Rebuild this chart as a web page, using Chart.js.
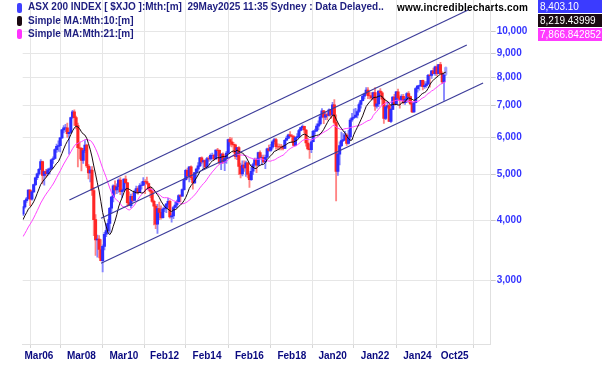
<!DOCTYPE html>
<html>
<head>
<meta charset="utf-8">
<script src="https://cdn.jsdelivr.net/npm/chart.js@4.4.1/dist/chart.umd.min.js"></script>
<style>
html,body{margin:0;padding:0;background:#fff;}
#wrap{position:relative;width:602px;height:365px;overflow:hidden;font-family:"Liberation Sans",Arial,sans-serif;}
#c{position:absolute;left:0;top:0;}
.leg{position:absolute;left:28px;font-size:10px;font-weight:bold;color:#1e1e80;white-space:pre;line-height:12px;}
.mk{position:absolute;left:17px;width:5px;height:10px;border-radius:2px;}
.site{position:absolute;left:397px;top:2px;font-size:10px;font-weight:bold;color:#000;letter-spacing:0.2px;line-height:12px;white-space:pre;}
.val{position:absolute;left:538px;width:64px;height:13px;color:#fff;font-size:10px;line-height:13px;padding-left:2px;box-sizing:border-box;white-space:pre;}
</style>
</head>
<body>
<div id="wrap">
<canvas id="c" width="602" height="365" style="width:602px;height:365px"></canvas>
<div class="mk" style="top:3px;background:#4040ff"></div>
<div class="leg" style="top:1px">ASX 200 INDEX [ $XJO ]:Mth:[m]  29May2025 11:35 Sydney : Data Delayed..</div>
<div class="mk" style="top:16px;background:#1a0a12"></div>
<div class="leg" style="top:15px">Simple MA:Mth:10:[m]</div>
<div class="mk" style="top:29px;background:#ff33ff"></div>
<div class="leg" style="top:28px">Simple MA:Mth:21:[m]</div>
<div class="site">www.incrediblecharts.com</div>
<div class="val" style="top:0px;background:#3b3bff">8,403.10</div>
<div class="val" style="top:14px;background:#1a0a12">8,219.43999</div>
<div class="val" style="top:27.5px;background:#ff3cff">7,866.842852</div>
</div>
<script>
// Monthly bars Jun 2005 .. May 2025 (x = months since Jan 2000)
const firstMonth = 65;

const opens = [
  4131, 4277, 4409, 4450, 4641, 4441, 4600,
  4763, 4927, 5019, 5129, 5329, 4980, 5073, 5023, 5118, 5145, 5374, 5409,
  5644, 5736, 5758, 5975, 6212, 6273, 6274, 6098, 6138, 6597, 6779, 6593,
  6340, 5697, 5681, 5355, 5620, 5773, 5215, 5045, 5114, 4631, 4021, 3645,
  3659, 3479, 3297, 3532, 3745, 3813, 3947, 4249, 4483, 4739, 4646, 4715,
  4871, 4605, 4638, 4893, 4807, 4367, 4302, 4501, 4415, 4597, 4676, 4585,
  4745, 4754, 4842, 4838, 4791, 4668, 4608, 4394, 4293, 3934, 4243, 4166,
  4057, 4233, 4252, 4335, 4396, 4076, 4095, 4264, 4316, 4387, 4517, 4506,
  4649, 4878, 5104, 4967, 5191, 4926, 4803, 5052, 5135, 5218, 5425, 5320,
  5352, 5190, 5405, 5394, 5489, 5492, 5396, 5633, 5625, 5292, 5527, 5313,
  5411, 5551, 5929, 5861, 5790, 5777, 5459, 5699, 5207, 5021, 5239, 5166,
  5296, 5005, 4880, 5083, 5252, 5378, 5233, 5562, 5433, 5436, 5317, 5440,
  5666, 5621, 5712, 5865, 5924, 5725, 5721, 5720, 5715, 5682, 5909, 5969,
  6065, 6037, 6016, 5759, 5982, 6011, 6195, 6280, 6319, 6208, 5830, 5667,
  5646, 5865, 6169, 6181, 6325, 6397, 6618, 6813, 6604, 6688, 6663, 6846,
  6684, 7017, 6441, 5077, 5523, 5756, 5898, 5928, 6061, 5815, 6003, 6518,
  6587, 6607, 6673, 6791, 7025, 7162, 7313, 7393, 7535, 7332, 7324, 7256,
  7444, 6971, 7049, 7500, 7435, 7211, 6568, 6945, 6987, 6474, 6863, 7284,
  7039, 7476, 7258, 7178, 7309, 7091, 7203, 7410, 7305, 7049, 6781, 7087,
  7591, 7681, 7699, 7896, 7664, 7702, 7767, 8092, 8091, 8270, 8160, 8436,
  8159, 8532, 8172, 7843, 8127
];

const highs = [
  4290, 4420, 4480, 4650, 4650, 4620, 4775,
  4940, 5040, 5150, 5380, 5340, 5090, 5130, 5150, 5170, 5390, 5450, 5670,
  5800, 5890, 5990, 6230, 6340, 6380, 6420, 6150, 6610, 6830, 6851, 6640,
  6420, 5850, 5700, 5680, 5900, 5800, 5260, 5200, 5200, 4700, 4120, 3730,
  3720, 3650, 3560, 3780, 3930, 4020, 4270, 4500, 4760, 4850, 4780, 4900,
  4930, 4660, 4900, 4970, 4820, 4600, 4550, 4580, 4640, 4730, 4720, 4790,
  4830, 4930, 4880, 4940, 4800, 4720, 4650, 4420, 4330, 4330, 4380, 4300,
  4260, 4300, 4350, 4460, 4420, 4140, 4290, 4370, 4420, 4540, 4540, 4670,
  4900, 5130, 5160, 5200, 5220, 4990, 5060, 5160, 5300, 5440, 5450, 5370,
  5370, 5440, 5460, 5530, 5550, 5520, 5640, 5680, 5640, 5540, 5560, 5470,
  5600, 5940, 5990, 5980, 5850, 5800, 5710, 5730, 5290, 5350, 5350, 5340,
  5300, 5040, 5180, 5290, 5420, 5420, 5580, 5610, 5500, 5500, 5500, 5690,
  5770, 5790, 5900, 5960, 5960, 5810, 5800, 5790, 5760, 5930, 6030, 6090,
  6160, 6070, 6040, 6000, 6100, 6230, 6300, 6370, 6330, 6220, 5960, 5800,
  5900, 6200, 6240, 6400, 6490, 6680, 6890, 6830, 6770, 6750, 6880, 6860,
  7100, 7197, 6680, 5560, 5860, 6150, 6100, 6170, 6100, 6200, 6560, 6730,
  6870, 6900, 6850, 7080, 7170, 7390, 7430, 7630, 7630, 7460, 7440, 7460,
  7630, 7290, 7510, 7590, 7480, 7250, 7000, 7130, 7040, 6900, 7300, 7380,
  7490, 7570, 7330, 7370, 7380, 7260, 7440, 7480, 7320, 7120, 7100, 7630,
  7710, 7720, 7900, 7910, 7850, 7850, 8130, 8140, 8280, 8380, 8470, 8520,
  8540, 8620, 8230, 8130, 8430
];

const lows = [
  4100, 4250, 4370, 4440, 4300, 4420, 4590,
  4740, 4880, 4990, 5120, 4780, 4750, 4940, 4980, 5010, 5130, 5280, 5400,
  5570, 5600, 5580, 5960, 6120, 6160, 5990, 5520, 6120, 6570, 6350, 6240,
  5190, 5400, 5090, 5280, 5560, 5170, 4900, 4830, 4520, 3720, 3380, 3350,
  3340, 3290, 3120, 3470, 3700, 3750, 3780, 4150, 4380, 4550, 4560, 4590,
  4540, 4470, 4620, 4780, 4280, 4300, 4260, 4380, 4400, 4570, 4550, 4580,
  4660, 4740, 4560, 4770, 4620, 4470, 4370, 3920, 3850, 3760, 4020, 4030,
  4050, 4180, 4160, 4270, 4050, 3970, 4040, 4250, 4260, 4380, 4380, 4500,
  4640, 4870, 4900, 4830, 4880, 4660, 4790, 4960, 5100, 5200, 5270, 5130,
  5140, 5180, 5330, 5360, 5390, 5370, 5390, 5480, 5270, 5120, 5280, 5100,
  5280, 5540, 5740, 5720, 5560, 5400, 5380, 5000, 4920, 4970, 5080, 4960,
  4920, 4700, 4860, 5000, 5210, 5050, 5220, 5410, 5240, 5300, 5150, 5430,
  5600, 5600, 5660, 5800, 5660, 5650, 5640, 5640, 5640, 5670, 5900, 5950,
  6000, 5840, 5740, 5750, 5960, 5980, 6180, 6220, 6120, 5740, 5640, 5410,
  5560, 5860, 6080, 6170, 6220, 6360, 6580, 6400, 6530, 6520, 6640, 6560,
  6660, 6390, 4403, 4980, 5240, 5730, 5870, 5900, 5760, 5800, 5920, 6470,
  6560, 6600, 6580, 6760, 6900, 7150, 7220, 7390, 7230, 7220, 7190, 7180,
  6830, 6900, 6950, 7330, 7000, 6410, 6530, 6900, 6470, 6440, 6850, 7000,
  7020, 7200, 6900, 7150, 7050, 7030, 7100, 7100, 7030, 6750, 6760, 7080,
  7460, 7530, 7670, 7540, 7600, 7630, 7740, 7640, 7970, 8150, 8090, 8070,
  8150, 8170, 7770, 7170, 8080
];

const closes = [
  4277, 4409, 4450, 4641, 4441, 4600, 4763,
  4927, 5019, 5129, 5329, 4980, 5073, 5023, 5118, 5145, 5374, 5409, 5644,
  5736, 5758, 5975, 6212, 6273, 6274, 6098, 6138, 6597, 6779, 6593, 6340,
  5697, 5681, 5355, 5620, 5773, 5215, 5045, 5114, 4631, 4021, 3645, 3659,
  3479, 3297, 3532, 3745, 3813, 3947, 4249, 4483, 4739, 4646, 4715, 4871,
  4605, 4638, 4893, 4807, 4367, 4302, 4501, 4415, 4597, 4676, 4585, 4745,
  4754, 4842, 4838, 4791, 4668, 4608, 4394, 4293, 3934, 4243, 4166, 4057,
  4233, 4252, 4335, 4396, 4076, 4095, 4264, 4316, 4387, 4517, 4506, 4649,
  4878, 5104, 4967, 5191, 4926, 4803, 5052, 5135, 5218, 5425, 5320, 5352,
  5190, 5405, 5394, 5489, 5492, 5396, 5633, 5625, 5292, 5527, 5313, 5411,
  5551, 5929, 5861, 5790, 5777, 5459, 5699, 5207, 5021, 5239, 5166, 5296,
  5005, 4880, 5083, 5252, 5378, 5233, 5562, 5433, 5436, 5317, 5440, 5666,
  5621, 5712, 5865, 5924, 5725, 5721, 5720, 5715, 5682, 5909, 5969, 6065,
  6037, 6016, 5759, 5982, 6011, 6195, 6280, 6319, 6208, 5830, 5667, 5646,
  5865, 6169, 6181, 6325, 6397, 6618, 6813, 6604, 6688, 6663, 6846, 6684,
  7017, 6441, 5077, 5523, 5756, 5898, 5928, 6061, 5815, 6003, 6518, 6587,
  6607, 6673, 6791, 7025, 7162, 7313, 7393, 7535, 7332, 7324, 7256, 7444,
  6971, 7049, 7500, 7435, 7211, 6568, 6945, 6987, 6474, 6863, 7284, 7039,
  7476, 7258, 7178, 7309, 7091, 7203, 7410, 7305, 7049, 6781, 7087, 7591,
  7681, 7699, 7896, 7664, 7702, 7767, 8092, 8091, 8270, 8160, 8436, 8159,
  8532, 8172, 7843, 8127, 8403
];

const ma10 = [
  4020, 4095, 4160, 4231, 4270, 4319, 4382,
  4463, 4566, 4666, 4771, 4828, 4890, 4928, 4996, 5051, 5112, 5160, 5222,
  5283, 5326, 5426, 5539, 5664, 5780, 5875, 5952, 6071, 6184, 6270, 6328,
  6300, 6247, 6155, 6090, 6057, 5965, 5810, 5643, 5447, 5215, 5010, 4808,
  4620, 4388, 4164, 4017, 3894, 3777, 3739, 3785, 3894, 3993, 4117, 4274,
  4381, 4471, 4579, 4665, 4676, 4658, 4635, 4611, 4600, 4580, 4578, 4589,
  4575, 4578, 4626, 4674, 4691, 4710, 4690, 4652, 4587, 4537, 4478, 4399,
  4339, 4285, 4252, 4230, 4199, 4179, 4212, 4219, 4241, 4287, 4314, 4354,
  4408, 4479, 4568, 4678, 4744, 4793, 4859, 4921, 4992, 5070, 5114, 5139,
  5161, 5183, 5229, 5298, 5342, 5368, 5410, 5430, 5427, 5444, 5457, 5457,
  5473, 5517, 5554, 5593, 5608, 5591, 5632, 5600, 5571, 5553, 5515, 5452,
  5366, 5275, 5206, 5185, 5153, 5155, 5209, 5229, 5256, 5258, 5301, 5380,
  5434, 5480, 5529, 5598, 5614, 5643, 5671, 5711, 5735, 5759, 5794, 5830,
  5847, 5856, 5859, 5885, 5915, 5963, 6022, 6063, 6087, 6064, 6027, 5990,
  6000, 6019, 6036, 6049, 6061, 6091, 6151, 6229, 6331, 6432, 6530, 6582,
  6666, 6677, 6545, 6436, 6330, 6259, 6183, 6123, 6020, 5952, 5902, 5917,
  6070, 6185, 6288, 6401, 6524, 6649, 6807, 6960, 7042, 7116, 7180, 7258,
  7276, 7278, 7312, 7324, 7306, 7209, 7170, 7137, 7058, 7000, 7032, 7031,
  7028, 7011, 7007, 7081, 7096, 7118, 7211, 7255, 7232, 7206, 7167, 7200,
  7251, 7290, 7370, 7416, 7446, 7492, 7596, 7727, 7845, 7902, 7978, 8024,
  8087, 8138, 8152, 8188, 8219
];

const ma21 = [
  3704, 3758, 3816, 3880, 3933, 3989, 4053,
  4124, 4199, 4275, 4358, 4423, 4490, 4549, 4605, 4657, 4718, 4778, 4851,
  4934, 5012, 5093, 5178, 5265, 5343, 5422, 5495, 5582, 5671, 5746, 5803,
  5821, 5854, 5868, 5896, 5927, 5931, 5915, 5901, 5853, 5771, 5670, 5560,
  5430, 5288, 5158, 5046, 4935, 4809, 4688, 4588, 4511, 4461, 4415, 4392,
  4344, 4290, 4275, 4263, 4228, 4212, 4235, 4272, 4316, 4373, 4435, 4492,
  4540, 4589, 4632, 4658, 4666, 4660, 4648, 4628, 4584, 4566, 4544, 4504,
  4477, 4471, 4473, 4468, 4452, 4428, 4408, 4395, 4378, 4367, 4351, 4342,
  4346, 4367, 4384, 4422, 4452, 4493, 4532, 4578, 4633, 4690, 4741, 4789,
  4827, 4890, 4952, 5011, 5067, 5115, 5168, 5221, 5252, 5283, 5293, 5314,
  5331, 5379, 5429, 5464, 5495, 5506, 5519, 5514, 5498, 5500, 5489, 5484,
  5461, 5432, 5417, 5399, 5387, 5385, 5386, 5392, 5393, 5382, 5359, 5350,
  5341, 5338, 5358, 5368, 5393, 5426, 5449, 5475, 5494, 5537, 5589, 5635,
  5673, 5703, 5728, 5748, 5776, 5812, 5858, 5900, 5925, 5935, 5933, 5923,
  5920, 5941, 5963, 5992, 6024, 6069, 6112, 6142, 6172, 6202, 6241, 6285,
  6335, 6355, 6302, 6266, 6239, 6224, 6229, 6248, 6256, 6262, 6279, 6298,
  6312, 6325, 6333, 6343, 6370, 6399, 6434, 6467, 6498, 6512, 6551, 6664,
  6733, 6795, 6871, 6943, 6997, 7033, 7078, 7100, 7095, 7107, 7136, 7148,
  7170, 7174, 7168, 7164, 7143, 7136, 7141, 7143, 7124, 7115, 7117, 7121,
  7133, 7156, 7219, 7254, 7288, 7349, 7408, 7446, 7505, 7537, 7593, 7640,
  7698, 7750, 7780, 7814, 7867
];

// Trend channel end points: [monthIndex, value]
const upperChannel  = [[91.2, 4421], [316.6, 11108]];
const middleChannel = [[109.1, 4047], [315.9, 9376]];
const lowerChannel  = [[109.1, 3253], [325.1, 7798]];

const tickLabels = ['Mar06','Mar08','Mar10','Feb12','Feb14','Feb16','Feb18','Jan20','Jan22','Jan24','Oct25'];
const tickMonths = [74, 98, 122, 145, 169, 193, 217, 240, 264, 288, 309];
const yTickValues = [3000, 4000, 5000, 6000, 7000, 8000, 9000, 10000];

const xMin = 64.8, xMax = 329.4, yMin = 2200, yMax = 11662;
const FONT = '"Liberation Sans", Arial, sans-serif';

const months = closes.map((_, i) => firstMonth + i);
const last = closes.length - 1;
const bodies = opens.map((o, i) => [o, closes[i]]);
const wicks = lows.map((l, i) => [l, highs[i]]);
const bodyColors = opens.map((o, i) => i === last ? '#9d9dff' : (closes[i] >= o ? '#2e2eff' : '#ff2626'));
const wickColors = opens.map((o, i) => i === last ? '#b5b5ff' : (closes[i] >= o ? '#8484ff' : '#ff8484'));
const toPts = arr => arr.map(p => ({x: p[0], y: p[1]}));

const channelStyle = {type: 'line', borderColor: '#3c3c99', borderWidth: 1.2, pointRadius: 0, fill: false, order: 1};

new Chart(document.getElementById('c'), {
  type: 'bar',
  data: {
    labels: months,
    datasets: [
      {type: 'bar', data: wicks, backgroundColor: wickColors, barThickness: 1.2, grouped: false, order: 10},
      {type: 'bar', data: bodies, backgroundColor: bodyColors, barThickness: 2.4, grouped: false, order: 9},
      {type: 'line', data: ma21, borderColor: '#ff44ff', borderWidth: 1, pointRadius: 0, fill: false, order: 5},
      {type: 'line', data: ma10, borderColor: '#1a0a10', borderWidth: 1, pointRadius: 0, fill: false, order: 4},
      Object.assign({data: toPts(upperChannel)}, channelStyle),
      Object.assign({data: toPts(middleChannel)}, channelStyle),
      Object.assign({data: toPts(lowerChannel)}, channelStyle)
    ]
  },
  options: {
    responsive: false,
    animation: false,
    devicePixelRatio: 1,
    layout: {padding: {left: 22.7, top: 0, right: 0, bottom: 0}},
    plugins: {legend: {display: false}, tooltip: {enabled: false}},
    scales: {
      x: {
        type: 'linear', min: xMin, max: xMax, offset: false,
        grid: {color: '#e6e6e6', lineWidth: 1, tickLength: 4, tickColor: '#d6d6d6'},
        border: {display: true, color: '#e0e0e0'},
        ticks: {
          autoSkip: false, maxRotation: 0, padding: 2, color: '#0a0a80',
          font: {family: FONT, size: 10, weight: 'bold'},
          callback: v => { const i = tickMonths.indexOf(v); return i >= 0 ? tickLabels[i] : ''; }
        },
        afterBuildTicks: s => { s.ticks = [{value: xMin}].concat(tickMonths.map(v => ({value: v}))); },
        afterFit: s => { s.height = 21; s.paddingLeft = 0; s.paddingRight = 0; }
      },
      y: {
        type: 'logarithmic', position: 'right', min: yMin, max: yMax,
        grid: {color: '#e6e6e6', lineWidth: 1, tickLength: 5, tickColor: '#c8c8c8'},
        border: {display: true, color: '#e0e0e0'},
        ticks: {
          padding: 1, color: '#3535ff',
          font: {family: FONT, size: 10, weight: 'bold'},
          callback: v => yTickValues.includes(v) ? v.toLocaleString('en-US') : ''
        },
        afterBuildTicks: s => { s.ticks = yTickValues.map(v => ({value: v})); },
        afterFit: s => { s.width = 111.3; s.paddingTop = 0; s.paddingBottom = 0; }
      }
    }
  }
});
</script>
</body>
</html>
